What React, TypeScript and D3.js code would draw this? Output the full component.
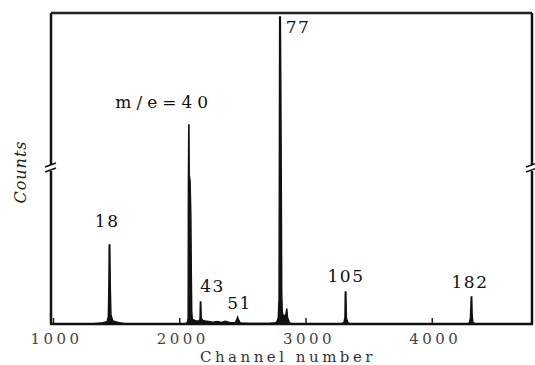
import React from 'react'
import * as d3 from 'd3'

// spectrum trace (channel, counts in % of full height)
const channels = [
  980, 1300, 1380, 1425, 1434, 1438, 1441, 1446, 1450, 1455, 1470, 1530, 1580,
  1960, 2040, 2060, 2066, 2068, 2071, 2073, 2075, 2082, 2088, 2092, 2095, 2100,
  2130, 2150, 2160, 2163, 2167, 2170, 2180, 2200, 2230, 2260, 2300, 2330, 2360, 2400,
  2440, 2452, 2458, 2464, 2480, 2550, 2700, 2760,
  2770, 2780, 2786, 2789, 2791, 2797, 2801, 2805, 2808, 2812, 2820, 2840, 2848, 2854, 2870, 2900,
  3280, 3300, 3308, 3311, 3316, 3320, 3330, 3350,
  4280, 4295, 4302, 4306, 4308, 4313, 4316, 4322, 4340, 4790,
]
const counts = [
  0, 0, 0.3, 0.8, 2.5, 12, 25.4, 25.4, 12, 3, 1, 0.3, 0,
  0, 0, 0.5, 2, 45, 64, 64, 48, 46, 35, 15, 4, 1.5,
  1, 1, 1.5, 7.1, 7.1, 2, 1.2, 1, 0.8, 0.6, 0.8, 0.5, 0.9, 0.4,
  0.5, 1.5, 2.2, 1.5, 0.3, 0.2, 0.2, 0.4,
  0.8, 2, 8, 60, 98.7, 98.7, 75, 40, 10, 4, 2.5, 3, 5, 2, 0.3, 0,
  0, 0.5, 2, 10.3, 10.3, 2, 0.5, 0,
  0, 0.5, 2, 6, 8.7, 8.7, 3, 0.5, 0, 0,
]

const peakLabels = ['18', 'm/e=40', '43', '51', '77', '105', '182']
const peakLabelChannels = [1425, 1877, 2260, 2474, 2937, 3317, 4299]
const peakLabelCounts = [31.2, 69.5, 10.3, 4.8, 93.6, 13.5, 11.6]

const xTicks = [1000, 2000, 3000, 4000]

const left = 51
const right = 532
const top = 13
const bottom = 324
const breakY = 168

export default function App() {
  const x = d3.scaleLinear().domain([980, 4790]).range([left, right])
  const y = d3.scaleLinear().domain([0, 100]).range([bottom, top])

  const pts = channels.map((c, i) => [c, counts[i]] as [number, number])
  const area = d3
    .area<[number, number]>()
    .x((d) => x(d[0]))
    .y0(y(0))
    .y1((d) => y(d[1]))
  const line = d3
    .line<[number, number]>()
    .x((d) => x(d[0]))
    .y((d) => y(d[1]))

  const font = "'DejaVu Serif', serif"

  return (
    <svg
      width={535}
      height={365}
      style={{ position: 'absolute', left: 0, top: 0, background: '#fff' }}
    >
      {/* spectrum */}
      <path d={area(pts) || ''} fill="#111" />
      <path d={line(pts) || ''} fill="none" stroke="#111" strokeWidth={1.4} />

      {/* inward ticks */}
      {xTicks.map((t) => (
        <line key={t} x1={x(t)} x2={x(t)} y1={bottom} y2={bottom - 6} stroke="#222" strokeWidth={1.5} />
      ))}

      {/* frame */}
      <line x1={left} x2={right} y1={top} y2={top} stroke="#222" strokeWidth={2.5} />
      <line x1={left - 1} x2={right + 1} y1={bottom} y2={bottom} stroke="#111" strokeWidth={2.5} />
      <line x1={left} x2={left} y1={top} y2={breakY - 3} stroke="#111" strokeWidth={2.5} />
      <line x1={left} x2={left} y1={breakY + 3} y2={bottom} stroke="#111" strokeWidth={2.5} />
      <line x1={right} x2={right} y1={top} y2={breakY - 3} stroke="#111" strokeWidth={2.5} />
      <line x1={right} x2={right} y1={breakY + 3} y2={bottom} stroke="#111" strokeWidth={2.5} />
      {[left, right].map((bx) => (
        <g key={bx} stroke="#111" strokeWidth={1.5} fill="none">
          <path d={`M${bx - 6},${breakY - 1} L${bx + 5},${breakY - 5}`} />
          <path d={`M${bx - 6},${breakY + 4} L${bx + 5},${breakY}`} />
        </g>
      ))}

      {/* peak labels */}
      {peakLabels.map((l, i) => (
        <text
          key={l}
          x={x(peakLabelChannels[i])}
          y={y(peakLabelCounts[i])}
          textAnchor="middle"
          fontFamily={font}
          fontSize={17}
          letterSpacing={i === 1 ? 5 : 1.5}
          fill="#111"
        >
          {l}
        </text>
      ))}

      {/* x tick labels */}
      {xTicks.map((t) => (
        <text
          key={t}
          x={x(t) + 3}
          y={344}
          textAnchor="middle"
          fontFamily={font}
          fontSize={15}
          letterSpacing={3.5}
          fill="#444"
        >
          {t}
        </text>
      ))}

      <text
        x={288}
        y={362}
        textAnchor="middle"
        fontFamily={font}
        fontSize={15}
        letterSpacing={3.5}
        fill="#333"
      >
        Channel number
      </text>

      <text
        transform="translate(26,172) rotate(-90)"
        textAnchor="middle"
        fontFamily={font}
        fontStyle="italic"
        fontSize={16}
        letterSpacing={1}
        fill="#222"
      >
        Counts
      </text>
    </svg>
  )
}
